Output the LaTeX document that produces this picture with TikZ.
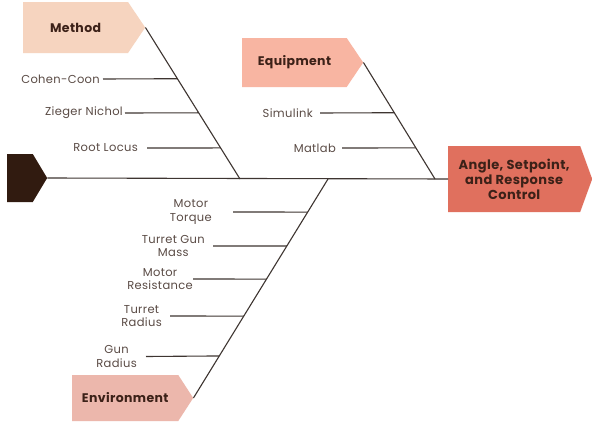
\documentclass[tikz,border=0pt]{standalone}
\usepackage{fontspec}
\setmainfont{Poppins}
\newfontfamily\lblfont[LetterSpace=3]{Poppins}
\usetikzlibrary{shapes.symbols,calc}
\definecolor{methodc}{HTML}{F6D4BF}
\definecolor{equipc}{HTML}{F8B5A2}
\definecolor{headc}{HTML}{E0705E}
\definecolor{envc}{HTML}{ECB7AC}
\definecolor{tailc}{HTML}{311B10}
\definecolor{boneline}{HTML}{3E3531}
\definecolor{lblc}{HTML}{5A4B45}
\definecolor{titlec}{HTML}{3C2118}
\tikzset{
  catbox/.style={shape=signal, signal to=east, draw=none, inner sep=0pt, anchor=west,
    font=\lblfont\fontsize{12.5}{15}\selectfont\bfseries, text=titlec},
  bone/.style={draw=boneline, line width=1.1pt},
  rib/.style={draw=boneline, line width=1.1pt},
  lbl/.style={inner ysep=0pt, inner xsep=2pt, text=lblc, anchor=east,
    font=\lblfont\fontsize{11.5}{13.5}\selectfont, align=center},
}
\begin{document}
\begin{tikzpicture}[x=1pt,y=-1pt]
\useasboundingbox[fill=white] (0,0) rectangle (592,423);
% category boxes
\node[catbox, fill=methodc, minimum width=122pt, minimum height=51pt, signal pointer angle=112] (method) at (23,27.5) {Method};
\node[catbox, fill=equipc, minimum width=121pt, minimum height=49pt, signal pointer angle=112] (equip) at (242,62.5) {Equipment};
\node[catbox, fill=envc, minimum width=121pt, minimum height=46pt, signal pointer angle=114] (env) at (72,398) {Environment};
\node[catbox, fill=headc, minimum width=144pt, minimum height=66pt, signal pointer angle=140, align=center, font=\lblfont\fontsize{13}{15}\selectfont\bfseries] (head) at (448,179) {Angle, Setpoint,\\and Response\\Control};
\node[shape=signal, signal to=east, anchor=west, fill=tailc, inner sep=0pt, minimum width=40pt, minimum height=48pt, signal pointer angle=118] (tail) at (7,178) {};
% spine and bones
\coordinate (mb) at (240,179);
\coordinate (eb) at (435,179);
\coordinate (nb) at (328,179);
\draw[bone] (tail.east) -- (head.west);
\draw[bone] (method.east) -- (mb);
\draw[bone] (equip.east) -- (eb);
\draw[bone] (env.east) -- (nb);
% method ribs
\node[lbl, inner xsep=3pt] (m1) at (103,79) {Cohen-Coon};
\node[lbl] (m2) at (125,113) {Zieger Nichol};
\node[lbl, inner xsep=9pt] (m3) at (147,148) {Root Locus};
\draw[rib] (m1.east) -- ($(method.east)!0.338!(mb)$);
\draw[rib] (m2.east) -- ($(method.east)!0.563!(mb)$);
\draw[rib] (m3.east) -- ($(method.east)!0.795!(mb)$);
% equipment ribs
\node[lbl, inner xsep=7pt] (q1) at (320,113) {Simulink};
\node[lbl, inner xsep=6pt] (q2) at (342,148) {Matlab};
\draw[rib] (q1.east) -- ($(equip.east)!0.431!(eb)$);
\draw[rib] (q2.east) -- ($(equip.east)!0.733!(eb)$);
% environment ribs
\node[lbl, inner xsep=21pt] (n1) at (233,212) {Motor\\Torque};
\node[lbl, inner xsep=8pt] (n2) at (213,246) {Turret Gun\\Mass};
\node[lbl, inner xsep=0pt] (n3) at (193,279) {Motor\\Resistance};
\node[lbl, inner xsep=8pt] (n4) at (170,316) {Turret\\Radius};
\node[lbl, inner xsep=9pt] (n5) at (146,356.5) {Gun\\Radius};
\draw[rib] (n1.east) -- ($(env.east)!0.849!(nb)$);
\draw[rib] (n2.east) -- ($(env.east)!0.694!(nb)$);
\draw[rib] (n3.east) -- ($(env.east)!0.543!(nb)$);
\draw[rib] (n4.east) -- ($(env.east)!0.374!(nb)$);
\draw[rib] (n5.east) -- ($(env.east)!0.192!(nb)$);
\end{tikzpicture}
\end{document}
